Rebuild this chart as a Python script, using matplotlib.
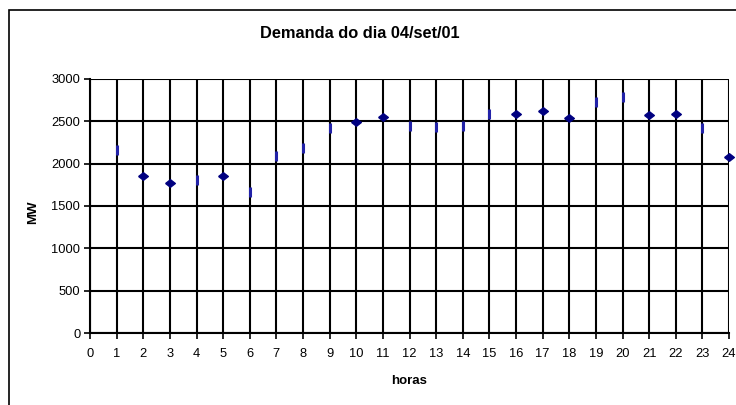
import matplotlib.pyplot as plt
from matplotlib.patches import Rectangle

plt.rcParams['font.family'] = ['Liberation Sans', 'DejaVu Sans']

# dados: demanda horaria (MW)
horas = list(range(1, 25))
demanda = [2160, 1855, 1767, 1808, 1850, 1663, 2092, 2189, 2425, 2496, 2548, 2445,
           2430, 2440, 2589, 2588, 2627, 2544, 2734, 2786, 2576, 2591, 2425, 2080]
# horas em que o losango aparece inteiro (nas outras so um traco)
horas_losango = [2, 3, 5, 10, 11, 16, 17, 18, 21, 22, 24]

W, H = 736, 405
fig = plt.figure(figsize=(W / 100, H / 100), dpi=100)

# area do grafico em pixels
left, right, top, bottom = 90, 729, 79, 333
ax = fig.add_axes([left / W, 1 - bottom / H, (right - left) / W, (bottom - top) / H])

# borda externa do grafico (cortada a direita e embaixo)
fig.patches.append(Rectangle((9 / W, -0.1), 2, 1 - 10 / H + 0.1, transform=fig.transFigure,
                             fill=False, edgecolor='black', linewidth=1.2))

x_full = [h for h in horas if h in horas_losango]
y_full = [d for h, d in zip(horas, demanda) if h in horas_losango]
x_bar = [h for h in horas if h not in horas_losango]
y_bar = [d for h, d in zip(horas, demanda) if h not in horas_losango]

diamante = [(-1, 0), (0, 0.78), (1, 0), (0, -0.78), (-1, 0)]
ax.plot(x_full, y_full, linestyle='none', marker=diamante, markersize=7,
        color='#000080', zorder=5, clip_on=False)
ax.plot(x_bar, y_bar, linestyle='none', marker='|', markersize=7, markeredgewidth=2.2,
        color='#2222a8', zorder=5, clip_on=False)

ax.set_xlim(0, 24)
ax.set_ylim(0, 3000)
ax.set_xticks(range(0, 25))
ax.set_yticks(range(0, 3001, 500))
ax.grid(True, color='black', linewidth=1.5)
ax.set_axisbelow(True)

for s in ['top', 'right']:
    ax.spines[s].set_visible(False)
for s in ['left', 'bottom']:
    ax.spines[s].set_linewidth(1.5)

ax.tick_params(axis='both', direction='out', length=4, width=1.2, labelsize=9.3,
               colors='black', pad=3)
ax.tick_params(axis='x', pad=7)

fig.text(360 / W, 1 - 33 / H, 'Demanda do dia 04/set/01', ha='center', va='center',
         fontsize=11.8, fontweight='bold')
fig.text(33 / W, 1 - 212 / H, 'MW', ha='center', va='center', rotation=90,
         fontsize=9.5, fontweight='bold')
fig.text(409 / W, 1 - 381 / H, 'horas', ha='center', va='center',
         fontsize=9.5, fontweight='bold')

fig.savefig('out.png', dpi=100)
